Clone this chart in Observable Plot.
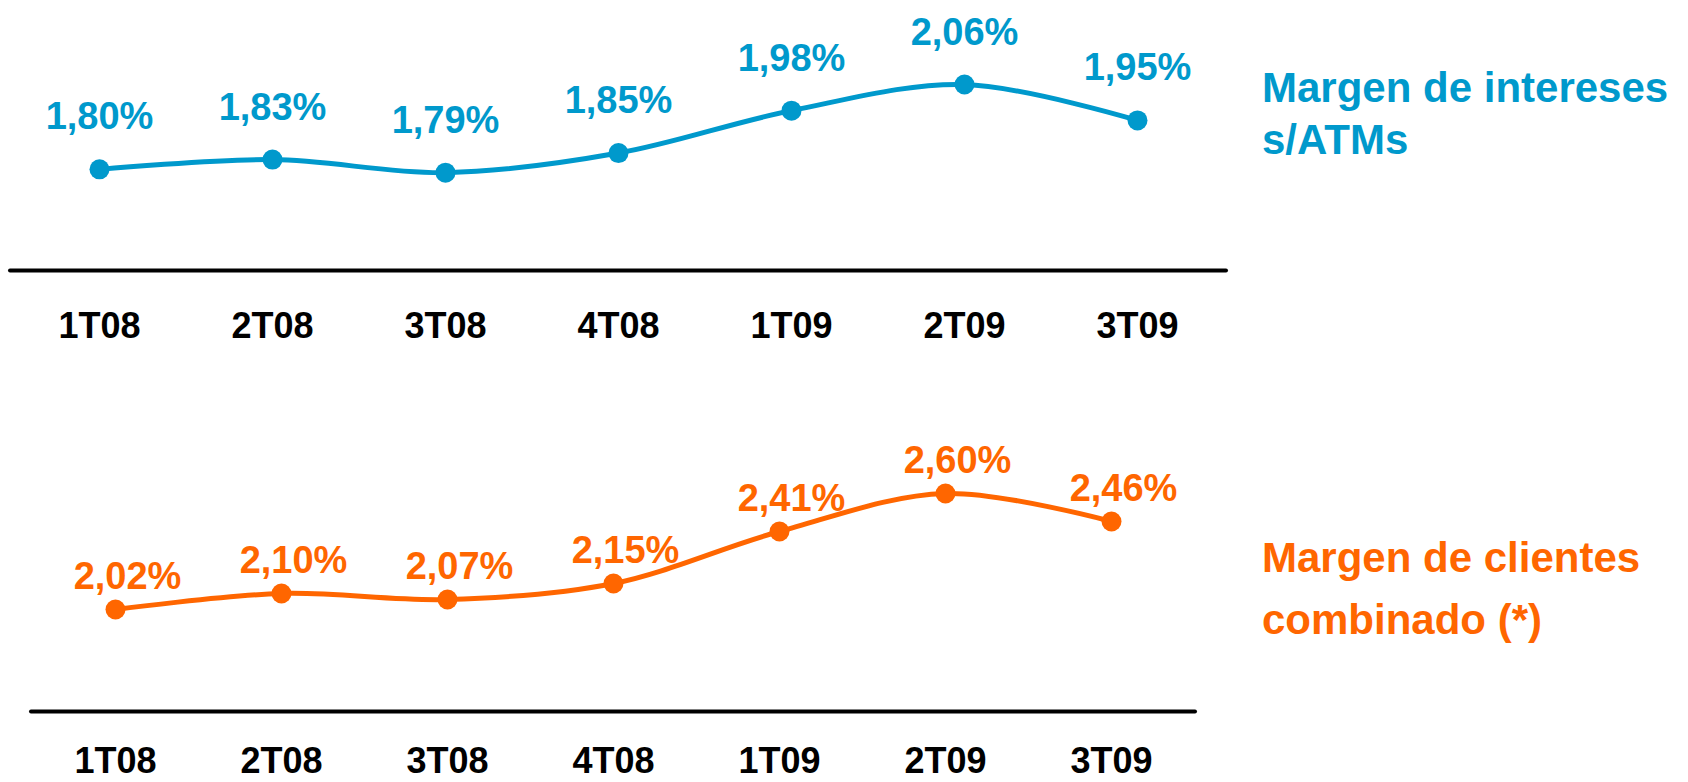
<!DOCTYPE html>
<html>
<head>
<meta charset="utf-8">
<script src="https://cdn.jsdelivr.net/npm/d3@7"></script>
<script src="https://cdn.jsdelivr.net/npm/@observablehq/plot@0.6"></script>
<style>
  html, body { margin: 0; padding: 0; background: #ffffff; }
  #wrap { position: relative; width: 1688px; height: 782px; overflow: hidden; font-family: "Liberation Sans", Arial, sans-serif; }
  .chart { position: absolute; left: 0; }
  .legend { position: absolute; left: 1262px; font-weight: bold; font-size: 42px; white-space: nowrap; }
</style>
</head>
<body>
<div id="wrap">
  <div id="top" class="chart" style="top:0px"></div>
  <div id="bottom" class="chart" style="top:390px"></div>
  <div class="legend" style="top:62px; line-height:52px; color:#0099CC">Margen de intereses<br>s/ATMs</div>
  <div class="legend" style="top:527px; line-height:62px; color:#FF6600">Margen de clientes<br>combinado (*)</div>
</div>
<script>
const quarters = ["1T08", "2T08", "3T08", "4T08", "1T09", "2T09", "3T09"];
const margenIntereses = [1.80, 1.83, 1.79, 1.85, 1.98, 2.06, 1.95];
const margenClientes = [2.02, 2.10, 2.07, 2.15, 2.41, 2.60, 2.46];

const fmt = v => v.toFixed(2).replace(".", ",") + "%";
const FONT = "'Liberation Sans', Arial, sans-serif";

function chart({values, color, height, marginLeft, marginRight, marginTop, marginBottom, domain, tickPadding, labelDx, labelDy}) {
  const data = quarters.map((q, i) => ({q, v: values[i]}));
  return Plot.plot({
    width: 1688,
    height,
    marginLeft, marginRight, marginTop, marginBottom,
    style: {fontFamily: FONT, background: "transparent", overflow: "visible"},
    x: {type: "point", domain: quarters, padding: 0.5, axis: null},
    y: {domain, axis: null},
    marks: [
      Plot.ruleY([domain[0]], {stroke: "#000", strokeWidth: 4, strokeLinecap: "round"}),
      Plot.axisX({tickSize: 0, tickPadding, fontSize: 36, fontWeight: "bold", fill: "#000", label: null}),
      Plot.line(data, {x: "q", y: "v", stroke: color, strokeWidth: 5, curve: "catmull-rom"}),
      Plot.dot(data, {x: "q", y: "v", r: 10, fill: color, stroke: "none"}),
      Plot.text(data, {x: "q", y: "v", text: d => fmt(d.v), dx: labelDx, dy: labelDy, lineAnchor: "bottom",
        fontSize: 38, fontWeight: "bold", fill: color})
    ]
  });
}

document.getElementById("top").append(chart({
  values: margenIntereses, color: "#0099CC", height: 350,
  marginLeft: 10, marginRight: 462, marginTop: 71, marginBottom: 80,
  domain: [1.49, 2.10], tickPadding: 42, labelDx: 0, labelDy: -40
}));
document.getElementById("bottom").append(chart({
  values: margenClientes, color: "#FF6600", height: 392,
  marginLeft: 31, marginRight: 493, marginTop: 83, marginBottom: 71,
  domain: [1.51, 2.70], tickPadding: 36, labelDx: 12, labelDy: -21
}));
</script>
</body>
</html>
